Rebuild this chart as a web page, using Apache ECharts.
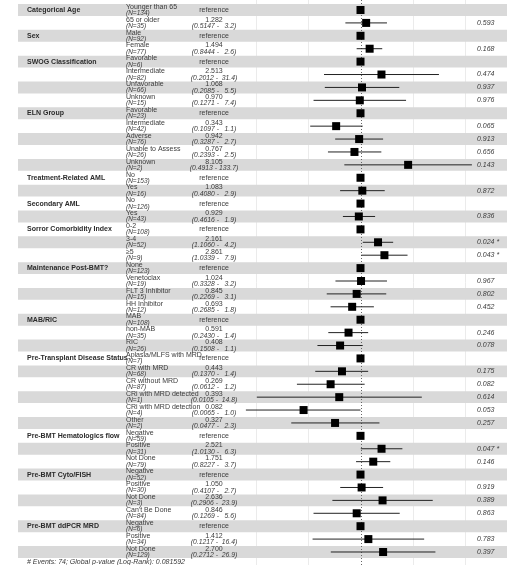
<!DOCTYPE html>
<html>
<head>
<meta charset="utf-8">
<script src="https://cdn.jsdelivr.net/npm/echarts@6/dist/echarts.min.js"></script>
<style>
  html, body { margin: 0; padding: 0; background: #fff; }
  #chart { width: 521px; height: 565px; }
</style>
</head>
<body>
<div id="chart"></div>
<script>
  // 变量名 (只写在每组第一行)
  var groups = ['Categorical Age', '', 'Sex', '', 'SWOG Classification', '', '', '',
    'ELN Group', '', '', '', '', 'Treatment-Related AML', '', 'Secondary AML', '',
    'Sorror Comorbidity Index', '', '', 'Maintenance Post-BMT?', '', '', '',
    'MAB/RIC', '', '', 'Pre-Transplant Disease Status', '', '', '', '', '',
    'Pre-BMT Hematologics flow', '', '', 'Pre-BMT Cyto/FISH', '', '', '',
    'Pre-BMT ddPCR MRD', '', ''];
  var levels = ['Younger than 65', '65 or older', 'Male', 'Female',
    'Favorable', 'Intermediate', 'Unfavorable', 'Unknown',
    'Favorable', 'Intermediate', 'Adverse', 'Unable to Assess', 'Unknown',
    'No', 'Yes', 'No', 'Yes', '0-2', '3-4', '\u22655',
    'None', 'Venetoclax', 'FLT 3 Inhibitor', 'HH Inhibitor',
    'MAB', 'non-MAB', 'RIC',
    'Aplasia/MLFS with MRD', 'CR with MRD', 'CR without MRD', 'CRi with MRD detected',
    'CRi with MRD detection', 'Other',
    'Negative', 'Positive', 'Not Done',
    'Negative', 'Positive', 'Not Done', "Can't Be Done",
    'Negative', 'Positive', 'Not Done'];
  var counts = [134, 35, 92, 77, 6, 82, 66, 15, 23, 42, 76, 26, 2, 153, 16, 126, 43,
    108, 52, 9, 123, 19, 15, 12, 108, 35, 26, 7, 68, 87, 1, 4, 2,
    59, 31, 79, 52, 30, 3, 84, 6, 34, 129];
  // null = reference
  var hazard = [null, 1.282, null, 1.494, null, 2.513, 1.068, 0.970,
    null, 0.343, 0.942, 0.767, 8.105, null, 1.083, null, 0.929,
    null, 2.161, 2.861, null, 1.024, 0.845, 0.693, null, 0.591, 0.408,
    null, 0.443, 0.269, 0.393, 0.082, 0.327,
    null, 2.521, 1.751, null, 1.050, 2.636, 0.846, null, 1.412, 2.700];
  var ciLow = [null, 0.5147, null, 0.8444, null, 0.2012, 0.2085, 0.1271,
    null, 0.1097, 0.3287, 0.2393, 0.4913, null, 0.4080, null, 0.4616,
    null, 1.1060, 1.0339, null, 0.3328, 0.2269, 0.2685, null, 0.2430, 0.1508,
    null, 0.1370, 0.0612, 0.0105, 0.0065, 0.0477,
    null, 1.0130, 0.8227, null, 0.4107, 0.2906, 0.1269, null, 0.1217, 0.2712];
  var ciHigh = [null, 3.2, null, 2.6, null, 31.4, 5.5, 7.4,
    null, 1.1, 2.7, 2.5, 133.7, null, 2.9, null, 1.9,
    null, 4.2, 7.9, null, 3.2, 3.1, 1.8, null, 1.4, 1.1,
    null, 1.4, 1.2, 14.8, 1.0, 2.3,
    null, 6.3, 3.7, null, 2.7, 23.9, 5.6, null, 16.4, 26.9];
  var pValues = [null, 0.593, null, 0.168, null, 0.474, 0.937, 0.976,
    null, 0.065, 0.913, 0.656, 0.143, null, 0.872, null, 0.836,
    null, 0.024, 0.043, null, 0.967, 0.802, 0.452, null, 0.246, 0.078,
    null, 0.175, 0.082, 0.614, 0.053, 0.257,
    null, 0.047, 0.146, null, 0.919, 0.389, 0.863, null, 0.783, 0.397];
  var gridBreaks = [0.01, 0.1, 10, 100];
  var footer = '# Events: 74; Global p-value (Log-Rank): 0.081592';

  // 版面: HR=1 在 x=360.5, 每个数量级 52.4px
  var W = 521, H = 565, X_ONE = 360.5, DECADE = 52.4;
  var FONT = 'Liberation Sans, Arial, sans-serif';
  var rows = levels.map(function (d, i) { return String(i); });

  var chart = echarts.init(document.getElementById('chart'), null, {renderer: 'canvas'});

  function label(str, x, y, align, size, weight, style) {
    return {
      type: 'text', x: x, y: y,
      style: {
        text: str, fill: weight === 'bold' ? '#2b2b2b' : '#3a3a3a',
        align: align, verticalAlign: 'middle',
        fontSize: size, fontFamily: FONT, fontWeight: weight || 'normal',
        fontStyle: style || 'normal'
      }
    };
  }

  function fmtCi(lo, hi) {
    var h = hi.toFixed(1);
    while (h.length < 5) h = ' ' + h;
    return '(' + lo.toFixed(4) + ' - ' + h + ')';
  }

  var option = {
    animation: false,
    grid: {left: 0, right: 0, top: 3.55, bottom: 6.55},
    xAxis: [{
      type: 'log', logBase: 10,
      min: Math.pow(10, -X_ONE / DECADE),
      max: Math.pow(10, (W - X_ONE) / DECADE),
      show: false, splitLine: {show: false}
    }, {
      type: 'value', min: 0, max: W, show: false, splitLine: {show: false}
    }],
    yAxis: {type: 'category', data: rows, inverse: true, show: false},
    series: [{
      // 竖向网格线
      type: 'custom', xAxisIndex: 0, z: 1, silent: true,
      data: gridBreaks.map(function (b) { return [b, 0]; }),
      encode: {x: 0, y: 1},
      renderItem: function (params, api) {
        var x = Math.round(api.coord([api.value(0), 0])[0]) + 0.5;
        return {type: 'line', shape: {x1: x, y1: 0, x2: x, y2: H},
          style: {stroke: '#ebebeb', lineWidth: 1}};
      }
    }, {
      // 灰色条纹
      type: 'custom', xAxisIndex: 1, z: 2, silent: true,
      data: rows.filter(function (r, i) { return i % 2 === 0; }).map(function (r) { return [0, +r]; }),
      encode: {x: 0, y: 1},
      renderItem: function (params, api) {
        var y = api.coord([0, api.value(1)])[1];
        var h = api.size([0, 1])[1];
        var a = api.coord([18, 0])[0], b = api.coord([507, 0])[0];
        return {type: 'rect', shape: {x: a, y: y - h / 2 + 0.5, width: b - a, height: h - 1},
          style: {fill: '#d9d9d9'}};
      }
    }, {
      // HR = 1 虚线
      type: 'custom', xAxisIndex: 0, z: 3, silent: true,
      data: [[1, 0]],
      encode: {x: 0, y: 1},
      renderItem: function (params, api) {
        var x = Math.round(api.coord([api.value(0), 0])[0]) + 0.5;
        return {type: 'line', shape: {x1: x, y1: 0, x2: x, y2: H},
          style: {stroke: '#666', lineWidth: 1, lineDash: [1, 2]}};
      }
    }, {
      // 置信区间和点估计
      type: 'custom', xAxisIndex: 0, z: 4,
      data: hazard.map(function (v, i) {
        return [v === null ? 1 : v, i, ciLow[i], ciHigh[i]];
      }),
      encode: {x: 0, y: 1},
      renderItem: function (params, api) {
        var row = api.value(1);
        var p = api.coord([api.value(0), row]);
        var kids = [];
        var lo = api.value(2), hi = api.value(3);
        if (!isNaN(lo) && !isNaN(hi) && lo > 0) {
          var a = api.coord([lo, row]), b = api.coord([hi, row]);
          kids.push({type: 'line', shape: {x1: a[0], y1: p[1], x2: b[0], y2: p[1]},
            style: {stroke: '#222', lineWidth: 1}});
        }
        kids.push({type: 'rect', shape: {x: p[0] - 4, y: p[1] - 4, width: 8, height: 8},
          style: {fill: '#000'}});
        return {type: 'group', children: kids};
      }
    }, {
      // 表格文字
      type: 'custom', xAxisIndex: 1, z: 5, silent: true,
      data: rows.map(function (r, i) { return [0, i]; }),
      encode: {x: 0, y: 1},
      renderItem: function (params, api) {
        var i = api.value(1);
        var y = api.coord([0, i])[1];
        var kids = [];
        if (groups[i]) kids.push(label(groups[i], 27, y, 'left', 7, 'bold'));
        kids.push(label(levels[i], 126, y - 3.2, 'left', 7));
        kids.push(label('(N=' + counts[i] + ')', 126, y + 3.2, 'left', 6.5, 'normal', 'italic'));
        if (hazard[i] === null) {
          kids.push(label('reference', 214, y, 'center', 7));
        } else {
          kids.push(label(hazard[i].toFixed(3), 214, y - 3.2, 'center', 7));
          kids.push(label(fmtCi(ciLow[i], ciHigh[i]), 214, y + 3.2, 'center', 6.8, 'normal', 'italic'));
          kids.push(label(pValues[i].toFixed(3) + (pValues[i] < 0.05 ? ' *' : ''),
            477, y, 'left', 7, 'normal', 'italic'));
        }
        return {type: 'group', children: kids};
      }
    }],
    graphic: [{
      type: 'text', left: 27, top: 559,
      style: {text: footer, fill: '#3a3a3a', fontSize: 7, fontFamily: FONT, fontStyle: 'italic'}
    }]
  };

  chart.setOption(option);
  window.onresize = chart.resize;
</script>
</body>
</html>
